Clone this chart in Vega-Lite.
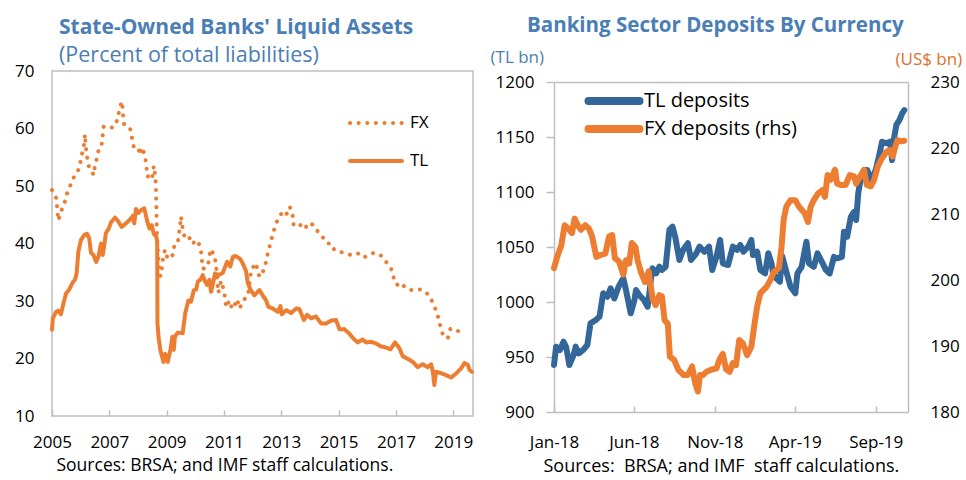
{
"$schema": "https://vega.github.io/schema/vega-lite/v6.json",
"padding": {"left": 13, "top": 15, "right": 2, "bottom": 0},
"background": "white",
"spacing": 15,
"columns": 2,
"align": "none",
"config": {
  "font": "Open Sans",
  "view": {"stroke": "#BFBFBF", "strokeWidth": 1.5},
  "axis": {"labelFont": "Open Sans", "labelFontSize": 17, "labelColor": "#000000", "grid": false, "domain": false, "titleFont": "Open Sans"},
  "legend": {"labelFont": "Open Sans"},
  "title": {"font": "Open Sans", "subtitleFont": "Open Sans"}
},
"resolve": {"scale": {"color": "independent", "strokeDash": "independent"}, "legend": {"color": "independent", "strokeDash": "independent"}},
"datasets": {
  "liquid": [
{"year":2005.0,"v":49.3,"s":"FX"},{"year":2005.15,"v":47.9,"s":"FX"},{"year":2005.18,"v":46.2,"s":"FX"},{"year":2005.22,"v":44.0,"s":"FX"},{"year":2005.3,"v":45.4,"s":"FX"},{"year":2005.43,"v":46.9,"s":"FX"},{"year":2005.5,"v":48.4,"s":"FX"},{"year":2005.63,"v":50.0,"s":"FX"},{"year":2005.76,"v":51.5,"s":"FX"},{"year":2005.92,"v":52.8,"s":"FX"},{"year":2006.0,"v":54.3,"s":"FX"},{"year":2006.06,"v":55.9,"s":"FX"},{"year":2006.13,"v":57.5,"s":"FX"},{"year":2006.15,"v":59.0,"s":"FX"},{"year":2006.18,"v":56.7,"s":"FX"},{"year":2006.22,"v":55.1,"s":"FX"},{"year":2006.28,"v":53.5,"s":"FX"},{"year":2006.36,"v":52.9,"s":"FX"},{"year":2006.45,"v":51.9,"s":"FX"},{"year":2006.5,"v":53.5,"s":"FX"},{"year":2006.57,"v":55.0,"s":"FX"},{"year":2006.64,"v":56.6,"s":"FX"},{"year":2006.73,"v":57.1,"s":"FX"},{"year":2006.77,"v":58.9,"s":"FX"},{"year":2006.8,"v":60.3,"s":"FX"},{"year":2006.97,"v":60.0,"s":"FX"},{"year":2007.17,"v":60.3,"s":"FX"},{"year":2007.29,"v":61.6,"s":"FX"},{"year":2007.35,"v":63.2,"s":"FX"},{"year":2007.43,"v":64.7,"s":"FX"},{"year":2007.46,"v":63.8,"s":"FX"},{"year":2007.48,"v":62.2,"s":"FX"},{"year":2007.52,"v":60.6,"s":"FX"},{"year":2007.73,"v":59.9,"s":"FX"},{"year":2007.79,"v":58.4,"s":"FX"},{"year":2007.85,"v":56.8,"s":"FX"},{"year":2007.99,"v":56.8,"s":"FX"},{"year":2008.08,"v":55.4,"s":"FX"},{"year":2008.12,"v":56.7,"s":"FX"},{"year":2008.18,"v":56.3,"s":"FX"},{"year":2008.26,"v":54.7,"s":"FX"},{"year":2008.3,"v":53.1,"s":"FX"},{"year":2008.34,"v":51.6,"s":"FX"},{"year":2008.43,"v":52.2,"s":"FX"},{"year":2008.5,"v":51.6,"s":"FX"},{"year":2008.55,"v":53.5,"s":"FX"},{"year":2008.6,"v":51.9,"s":"FX"},{"year":2008.62,"v":50.5,"s":"FX"},{"year":2008.63,"v":48.8,"s":"FX"},{"year":2008.64,"v":47.1,"s":"FX"},{"year":2008.645,"v":45.5,"s":"FX"},{"year":2008.65,"v":44.1,"s":"FX"},{"year":2008.66,"v":42.3,"s":"FX"},{"year":2008.67,"v":40.6,"s":"FX"},{"year":2008.69,"v":39.0,"s":"FX"},{"year":2008.71,"v":37.4,"s":"FX"},{"year":2008.73,"v":36.0,"s":"FX"},{"year":2008.78,"v":34.3,"s":"FX"},{"year":2008.83,"v":35.5,"s":"FX"},{"year":2008.87,"v":37.3,"s":"FX"},{"year":2008.94,"v":38.9,"s":"FX"},{"year":2009.04,"v":37.3,"s":"FX"},{"year":2009.21,"v":38.0,"s":"FX"},{"year":2009.27,"v":39.7,"s":"FX"},{"year":2009.39,"v":40.1,"s":"FX"},{"year":2009.42,"v":41.5,"s":"FX"},{"year":2009.47,"v":43.0,"s":"FX"},{"year":2009.5,"v":44.7,"s":"FX"},{"year":2009.55,"v":42.9,"s":"FX"},{"year":2009.6,"v":41.5,"s":"FX"},{"year":2009.74,"v":40.6,"s":"FX"},{"year":2009.85,"v":41.2,"s":"FX"},{"year":2009.97,"v":39.9,"s":"FX"},{"year":2010.1,"v":40.3,"s":"FX"},{"year":2010.2,"v":38.7,"s":"FX"},{"year":2010.23,"v":37.1,"s":"FX"},{"year":2010.27,"v":35.6,"s":"FX"},{"year":2010.43,"v":36.0,"s":"FX"},{"year":2010.49,"v":37.4,"s":"FX"},{"year":2010.52,"v":39.0,"s":"FX"},{"year":2010.58,"v":38.7,"s":"FX"},{"year":2010.67,"v":37.8,"s":"FX"},{"year":2010.72,"v":36.3,"s":"FX"},{"year":2010.76,"v":34.6,"s":"FX"},{"year":2010.8,"v":31.4,"s":"FX"},{"year":2010.9,"v":33.5,"s":"FX"},{"year":2010.99,"v":32.0,"s":"FX"},{"year":2011.04,"v":30.5,"s":"FX"},{"year":2011.07,"v":28.9,"s":"FX"},{"year":2011.19,"v":30.1,"s":"FX"},{"year":2011.28,"v":28.6,"s":"FX"},{"year":2011.36,"v":29.1,"s":"FX"},{"year":2011.46,"v":30.3,"s":"FX"},{"year":2011.54,"v":28.7,"s":"FX"},{"year":2011.71,"v":30.3,"s":"FX"},{"year":2011.83,"v":30.8,"s":"FX"},{"year":2011.88,"v":32.5,"s":"FX"},{"year":2011.95,"v":35.4,"s":"FX"},{"year":2012.12,"v":36.6,"s":"FX"},{"year":2012.18,"v":34.8,"s":"FX"},{"year":2012.27,"v":34.2,"s":"FX"},{"year":2012.39,"v":35.4,"s":"FX"},{"year":2012.47,"v":36.8,"s":"FX"},{"year":2012.53,"v":38.3,"s":"FX"},{"year":2012.62,"v":40.0,"s":"FX"},{"year":2012.7,"v":41.5,"s":"FX"},{"year":2012.78,"v":42.9,"s":"FX"},{"year":2012.9,"v":44.5,"s":"FX"},{"year":2012.99,"v":45.1,"s":"FX"},{"year":2013.11,"v":45.5,"s":"FX"},{"year":2013.17,"v":45.0,"s":"FX"},{"year":2013.3,"v":46.4,"s":"FX"},{"year":2013.34,"v":45.5,"s":"FX"},{"year":2013.4,"v":44.8,"s":"FX"},{"year":2013.43,"v":43.2,"s":"FX"},{"year":2013.61,"v":43.5,"s":"FX"},{"year":2013.81,"v":42.5,"s":"FX"},{"year":2013.96,"v":43.6,"s":"FX"},{"year":2014.13,"v":43.2,"s":"FX"},{"year":2014.3,"v":41.9,"s":"FX"},{"year":2014.48,"v":40.9,"s":"FX"},{"year":2014.62,"v":40.0,"s":"FX"},{"year":2014.74,"v":40.0,"s":"FX"},{"year":2014.85,"v":38.9,"s":"FX"},{"year":2014.99,"v":38.7,"s":"FX"},{"year":2015.2,"v":38.3,"s":"FX"},{"year":2015.44,"v":38.0,"s":"FX"},{"year":2015.67,"v":38.3,"s":"FX"},{"year":2015.84,"v":37.6,"s":"FX"},{"year":2016.02,"v":37.8,"s":"FX"},{"year":2016.23,"v":38.4,"s":"FX"},{"year":2016.46,"v":38.0,"s":"FX"},{"year":2016.66,"v":36.8,"s":"FX"},{"year":2016.83,"v":35.7,"s":"FX"},{"year":2016.93,"v":33.9,"s":"FX"},{"year":2017.04,"v":32.8,"s":"FX"},{"year":2017.16,"v":33.2,"s":"FX"},{"year":2017.3,"v":32.5,"s":"FX"},{"year":2017.51,"v":31.9,"s":"FX"},{"year":2017.7,"v":32.0,"s":"FX"},{"year":2017.9,"v":32.0,"s":"FX"},{"year":2018.09,"v":31.3,"s":"FX"},{"year":2018.23,"v":30.3,"s":"FX"},{"year":2018.37,"v":28.7,"s":"FX"},{"year":2018.48,"v":27.1,"s":"FX"},{"year":2018.55,"v":25.7,"s":"FX"},{"year":2018.64,"v":24.1,"s":"FX"},{"year":2018.81,"v":23.5,"s":"FX"},{"year":2018.9,"v":25.2,"s":"FX"},{"year":2019.16,"v":24.8,"s":"FX"},{"year":2019.39,"v":24.3,"s":"FX"},
{"year":2005.0,"v":25.0,"s":"TL"},{"year":2005.03,"v":27.0,"s":"TL"},{"year":2005.14,"v":28.1,"s":"TL"},{"year":2005.22,"v":28.3,"s":"TL"},{"year":2005.31,"v":27.7,"s":"TL"},{"year":2005.4,"v":29.6,"s":"TL"},{"year":2005.49,"v":31.3,"s":"TL"},{"year":2005.6,"v":32.0,"s":"TL"},{"year":2005.72,"v":33.2,"s":"TL"},{"year":2005.8,"v":33.7,"s":"TL"},{"year":2005.86,"v":34.8,"s":"TL"},{"year":2005.92,"v":38.6,"s":"TL"},{"year":2006.01,"v":40.6,"s":"TL"},{"year":2006.13,"v":41.5,"s":"TL"},{"year":2006.22,"v":41.7,"s":"TL"},{"year":2006.3,"v":40.9,"s":"TL"},{"year":2006.36,"v":38.4,"s":"TL"},{"year":2006.45,"v":38.0,"s":"TL"},{"year":2006.54,"v":36.8,"s":"TL"},{"year":2006.62,"v":37.7,"s":"TL"},{"year":2006.71,"v":40.0,"s":"TL"},{"year":2006.77,"v":38.0,"s":"TL"},{"year":2006.83,"v":39.9,"s":"TL"},{"year":2006.88,"v":41.8,"s":"TL"},{"year":2006.98,"v":42.6,"s":"TL"},{"year":2007.06,"v":43.7,"s":"TL"},{"year":2007.2,"v":44.5,"s":"TL"},{"year":2007.29,"v":44.0,"s":"TL"},{"year":2007.43,"v":42.9,"s":"TL"},{"year":2007.58,"v":43.5,"s":"TL"},{"year":2007.73,"v":44.2,"s":"TL"},{"year":2007.82,"v":44.8,"s":"TL"},{"year":2007.87,"v":43.5,"s":"TL"},{"year":2007.93,"v":46.0,"s":"TL"},{"year":2008.01,"v":45.3,"s":"TL"},{"year":2008.13,"v":45.9,"s":"TL"},{"year":2008.22,"v":46.1,"s":"TL"},{"year":2008.32,"v":43.9,"s":"TL"},{"year":2008.4,"v":42.6,"s":"TL"},{"year":2008.48,"v":43.2,"s":"TL"},{"year":2008.55,"v":41.7,"s":"TL"},{"year":2008.64,"v":41.2,"s":"TL"},{"year":2008.67,"v":40.4,"s":"TL"},{"year":2008.68,"v":26.1,"s":"TL"},{"year":2008.72,"v":23.6,"s":"TL"},{"year":2008.78,"v":21.5,"s":"TL"},{"year":2008.89,"v":19.4,"s":"TL"},{"year":2008.95,"v":20.8,"s":"TL"},{"year":2009.04,"v":19.4,"s":"TL"},{"year":2009.13,"v":21.5,"s":"TL"},{"year":2009.2,"v":23.8,"s":"TL"},{"year":2009.25,"v":21.5,"s":"TL"},{"year":2009.29,"v":23.8,"s":"TL"},{"year":2009.39,"v":24.5,"s":"TL"},{"year":2009.56,"v":24.4,"s":"TL"},{"year":2009.65,"v":27.9,"s":"TL"},{"year":2009.76,"v":30.1,"s":"TL"},{"year":2009.85,"v":29.9,"s":"TL"},{"year":2009.95,"v":31.9,"s":"TL"},{"year":2010.03,"v":32.0,"s":"TL"},{"year":2010.09,"v":33.4,"s":"TL"},{"year":2010.18,"v":33.7,"s":"TL"},{"year":2010.26,"v":34.5,"s":"TL"},{"year":2010.34,"v":33.4,"s":"TL"},{"year":2010.41,"v":32.8,"s":"TL"},{"year":2010.49,"v":33.7,"s":"TL"},{"year":2010.55,"v":31.6,"s":"TL"},{"year":2010.62,"v":33.1,"s":"TL"},{"year":2010.69,"v":34.8,"s":"TL"},{"year":2010.8,"v":34.5,"s":"TL"},{"year":2010.96,"v":34.9,"s":"TL"},{"year":2011.11,"v":36.8,"s":"TL"},{"year":2011.22,"v":36.0,"s":"TL"},{"year":2011.31,"v":37.7,"s":"TL"},{"year":2011.42,"v":37.8,"s":"TL"},{"year":2011.57,"v":37.3,"s":"TL"},{"year":2011.66,"v":36.5,"s":"TL"},{"year":2011.77,"v":35.2,"s":"TL"},{"year":2011.83,"v":33.2,"s":"TL"},{"year":2011.92,"v":32.0,"s":"TL"},{"year":2012.06,"v":31.0,"s":"TL"},{"year":2012.24,"v":31.9,"s":"TL"},{"year":2012.35,"v":31.0,"s":"TL"},{"year":2012.47,"v":30.1,"s":"TL"},{"year":2012.55,"v":29.0,"s":"TL"},{"year":2012.7,"v":28.7,"s":"TL"},{"year":2012.88,"v":28.1,"s":"TL"},{"year":2012.97,"v":29.1,"s":"TL"},{"year":2013.02,"v":27.7,"s":"TL"},{"year":2013.17,"v":28.4,"s":"TL"},{"year":2013.34,"v":27.9,"s":"TL"},{"year":2013.52,"v":28.7,"s":"TL"},{"year":2013.63,"v":28.6,"s":"TL"},{"year":2013.79,"v":26.7,"s":"TL"},{"year":2013.9,"v":27.6,"s":"TL"},{"year":2014.04,"v":27.0,"s":"TL"},{"year":2014.21,"v":27.3,"s":"TL"},{"year":2014.39,"v":26.1,"s":"TL"},{"year":2014.56,"v":26.1,"s":"TL"},{"year":2014.74,"v":26.6,"s":"TL"},{"year":2014.91,"v":26.7,"s":"TL"},{"year":2015.03,"v":25.1,"s":"TL"},{"year":2015.2,"v":25.1,"s":"TL"},{"year":2015.38,"v":24.3,"s":"TL"},{"year":2015.55,"v":23.3,"s":"TL"},{"year":2015.67,"v":22.8,"s":"TL"},{"year":2015.84,"v":23.3,"s":"TL"},{"year":2015.96,"v":22.8,"s":"TL"},{"year":2016.13,"v":22.9,"s":"TL"},{"year":2016.31,"v":22.6,"s":"TL"},{"year":2016.48,"v":22.1,"s":"TL"},{"year":2016.66,"v":21.9,"s":"TL"},{"year":2016.81,"v":21.6,"s":"TL"},{"year":2016.97,"v":22.8,"s":"TL"},{"year":2017.12,"v":21.8,"s":"TL"},{"year":2017.24,"v":20.4,"s":"TL"},{"year":2017.39,"v":20.0,"s":"TL"},{"year":2017.59,"v":19.4,"s":"TL"},{"year":2017.76,"v":18.5,"s":"TL"},{"year":2017.94,"v":19.0,"s":"TL"},{"year":2018.11,"v":18.5,"s":"TL"},{"year":2018.23,"v":19.0,"s":"TL"},{"year":2018.29,"v":17.7,"s":"TL"},{"year":2018.34,"v":15.4,"s":"TL"},{"year":2018.4,"v":17.7,"s":"TL"},{"year":2018.55,"v":17.5,"s":"TL"},{"year":2018.75,"v":17.1,"s":"TL"},{"year":2018.93,"v":16.7,"s":"TL"},{"year":2019.1,"v":17.4,"s":"TL"},{"year":2019.28,"v":18.3,"s":"TL"},{"year":2019.39,"v":19.2,"s":"TL"},{"year":2019.51,"v":18.9,"s":"TL"},{"year":2019.57,"v":18.0,"s":"TL"},{"year":2019.65,"v":17.7,"s":"TL"}
  ],
  "tl": [
{"date":"2018-01-01","v":942.7,"s":"TL deposits"},{"date":"2018-01-05","v":959.4,"s":"TL deposits"},{"date":"2018-01-12","v":956.4,"s":"TL deposits"},{"date":"2018-01-19","v":963.9,"s":"TL deposits"},{"date":"2018-01-24","v":959.0,"s":"TL deposits"},{"date":"2018-01-30","v":942.7,"s":"TL deposits"},{"date":"2018-02-07","v":951.8,"s":"TL deposits"},{"date":"2018-02-11","v":959.4,"s":"TL deposits"},{"date":"2018-02-17","v":953.3,"s":"TL deposits"},{"date":"2018-02-25","v":956.4,"s":"TL deposits"},{"date":"2018-03-05","v":960.9,"s":"TL deposits"},{"date":"2018-03-11","v":980.6,"s":"TL deposits"},{"date":"2018-03-21","v":983.6,"s":"TL deposits"},{"date":"2018-03-28","v":986.7,"s":"TL deposits"},{"date":"2018-04-04","v":1007.9,"s":"TL deposits"},{"date":"2018-04-12","v":1004.8,"s":"TL deposits"},{"date":"2018-04-18","v":1012.4,"s":"TL deposits"},{"date":"2018-04-25","v":1003.3,"s":"TL deposits"},{"date":"2018-05-03","v":1013.9,"s":"TL deposits"},{"date":"2018-05-12","v":1021.5,"s":"TL deposits"},{"date":"2018-05-17","v":1010.9,"s":"TL deposits"},{"date":"2018-05-26","v":989.7,"s":"TL deposits"},{"date":"2018-06-02","v":1001.8,"s":"TL deposits"},{"date":"2018-06-05","v":1010.9,"s":"TL deposits"},{"date":"2018-06-11","v":1006.4,"s":"TL deposits"},{"date":"2018-06-20","v":1001.8,"s":"TL deposits"},{"date":"2018-06-27","v":995.7,"s":"TL deposits"},{"date":"2018-07-03","v":1020.0,"s":"TL deposits"},{"date":"2018-07-06","v":1030.6,"s":"TL deposits"},{"date":"2018-07-13","v":1026.0,"s":"TL deposits"},{"date":"2018-07-19","v":1032.1,"s":"TL deposits"},{"date":"2018-07-24","v":1029.1,"s":"TL deposits"},{"date":"2018-07-31","v":1032.1,"s":"TL deposits"},{"date":"2018-08-07","v":1065.5,"s":"TL deposits"},{"date":"2018-08-13","v":1068.5,"s":"TL deposits"},{"date":"2018-08-18","v":1059.4,"s":"TL deposits"},{"date":"2018-08-26","v":1038.2,"s":"TL deposits"},{"date":"2018-09-02","v":1047.3,"s":"TL deposits"},{"date":"2018-09-11","v":1053.4,"s":"TL deposits"},{"date":"2018-09-17","v":1038.2,"s":"TL deposits"},{"date":"2018-09-27","v":1044.3,"s":"TL deposits"},{"date":"2018-10-03","v":1050.3,"s":"TL deposits"},{"date":"2018-10-12","v":1045.7,"s":"TL deposits"},{"date":"2018-10-21","v":1050.3,"s":"TL deposits"},{"date":"2018-10-27","v":1029.1,"s":"TL deposits"},{"date":"2018-11-04","v":1041.2,"s":"TL deposits"},{"date":"2018-11-11","v":1056.4,"s":"TL deposits"},{"date":"2018-11-16","v":1035.2,"s":"TL deposits"},{"date":"2018-11-26","v":1033.6,"s":"TL deposits"},{"date":"2018-12-05","v":1050.3,"s":"TL deposits"},{"date":"2018-12-13","v":1047.3,"s":"TL deposits"},{"date":"2018-12-19","v":1051.8,"s":"TL deposits"},{"date":"2018-12-25","v":1045.7,"s":"TL deposits"},{"date":"2019-01-03","v":1050.3,"s":"TL deposits"},{"date":"2019-01-09","v":1056.4,"s":"TL deposits"},{"date":"2019-01-12","v":1042.7,"s":"TL deposits"},{"date":"2019-01-20","v":1045.7,"s":"TL deposits"},{"date":"2019-01-26","v":1029.1,"s":"TL deposits"},{"date":"2019-02-04","v":1026.0,"s":"TL deposits"},{"date":"2019-02-10","v":1044.3,"s":"TL deposits"},{"date":"2019-02-16","v":1035.2,"s":"TL deposits"},{"date":"2019-02-19","v":1026.0,"s":"TL deposits"},{"date":"2019-02-25","v":1021.5,"s":"TL deposits"},{"date":"2019-03-04","v":1018.5,"s":"TL deposits"},{"date":"2019-03-08","v":1042.0,"s":"TL deposits"},{"date":"2019-03-12","v":1035.0,"s":"TL deposits"},{"date":"2019-03-17","v":1026.0,"s":"TL deposits"},{"date":"2019-03-24","v":1013.9,"s":"TL deposits"},{"date":"2019-04-02","v":1007.9,"s":"TL deposits"},{"date":"2019-04-06","v":1026.0,"s":"TL deposits"},{"date":"2019-04-14","v":1032.0,"s":"TL deposits"},{"date":"2019-04-23","v":1054.8,"s":"TL deposits"},{"date":"2019-04-28","v":1035.0,"s":"TL deposits"},{"date":"2019-05-07","v":1032.0,"s":"TL deposits"},{"date":"2019-05-14","v":1044.3,"s":"TL deposits"},{"date":"2019-05-22","v":1036.7,"s":"TL deposits"},{"date":"2019-05-30","v":1029.0,"s":"TL deposits"},{"date":"2019-06-06","v":1026.0,"s":"TL deposits"},{"date":"2019-06-14","v":1041.0,"s":"TL deposits"},{"date":"2019-06-20","v":1039.7,"s":"TL deposits"},{"date":"2019-06-29","v":1041.0,"s":"TL deposits"},{"date":"2019-07-03","v":1063.9,"s":"TL deposits"},{"date":"2019-07-09","v":1059.4,"s":"TL deposits"},{"date":"2019-07-16","v":1077.5,"s":"TL deposits"},{"date":"2019-07-22","v":1082.0,"s":"TL deposits"},{"date":"2019-07-26","v":1074.5,"s":"TL deposits"},{"date":"2019-07-30","v":1098.8,"s":"TL deposits"},{"date":"2019-08-04","v":1113.9,"s":"TL deposits"},{"date":"2019-08-10","v":1120.0,"s":"TL deposits"},{"date":"2019-08-16","v":1120.0,"s":"TL deposits"},{"date":"2019-08-23","v":1110.9,"s":"TL deposits"},{"date":"2019-09-01","v":1120.0,"s":"TL deposits"},{"date":"2019-09-07","v":1132.0,"s":"TL deposits"},{"date":"2019-09-13","v":1145.7,"s":"TL deposits"},{"date":"2019-09-21","v":1144.3,"s":"TL deposits"},{"date":"2019-09-28","v":1145.7,"s":"TL deposits"},{"date":"2019-10-02","v":1129.0,"s":"TL deposits"},{"date":"2019-10-06","v":1150.0,"s":"TL deposits"},{"date":"2019-10-10","v":1161.0,"s":"TL deposits"},{"date":"2019-10-16","v":1165.5,"s":"TL deposits"},{"date":"2019-10-21","v":1171.5,"s":"TL deposits"},{"date":"2019-10-25","v":1174.5,"s":"TL deposits"}
  ],
  "fx": [
{"date":"2018-01-01","v":201.8,"s":"FX deposits (rhs)"},{"date":"2018-01-07","v":203.5,"s":"FX deposits (rhs)"},{"date":"2018-01-15","v":205.3,"s":"FX deposits (rhs)"},{"date":"2018-01-21","v":208.3,"s":"FX deposits (rhs)"},{"date":"2018-01-28","v":207.8,"s":"FX deposits (rhs)"},{"date":"2018-02-04","v":207.1,"s":"FX deposits (rhs)"},{"date":"2018-02-09","v":209.3,"s":"FX deposits (rhs)"},{"date":"2018-02-15","v":208.3,"s":"FX deposits (rhs)"},{"date":"2018-02-21","v":207.6,"s":"FX deposits (rhs)"},{"date":"2018-03-01","v":208.3,"s":"FX deposits (rhs)"},{"date":"2018-03-08","v":207.8,"s":"FX deposits (rhs)"},{"date":"2018-03-14","v":206.6,"s":"FX deposits (rhs)"},{"date":"2018-03-22","v":203.5,"s":"FX deposits (rhs)"},{"date":"2018-03-30","v":203.8,"s":"FX deposits (rhs)"},{"date":"2018-04-08","v":204.0,"s":"FX deposits (rhs)"},{"date":"2018-04-15","v":206.6,"s":"FX deposits (rhs)"},{"date":"2018-04-21","v":206.8,"s":"FX deposits (rhs)"},{"date":"2018-04-26","v":203.3,"s":"FX deposits (rhs)"},{"date":"2018-05-04","v":202.8,"s":"FX deposits (rhs)"},{"date":"2018-05-12","v":200.8,"s":"FX deposits (rhs)"},{"date":"2018-05-17","v":203.0,"s":"FX deposits (rhs)"},{"date":"2018-05-23","v":202.5,"s":"FX deposits (rhs)"},{"date":"2018-05-28","v":205.6,"s":"FX deposits (rhs)"},{"date":"2018-06-04","v":205.0,"s":"FX deposits (rhs)"},{"date":"2018-06-08","v":203.0,"s":"FX deposits (rhs)"},{"date":"2018-06-15","v":201.0,"s":"FX deposits (rhs)"},{"date":"2018-06-22","v":199.7,"s":"FX deposits (rhs)"},{"date":"2018-06-29","v":201.3,"s":"FX deposits (rhs)"},{"date":"2018-07-03","v":199.0,"s":"FX deposits (rhs)"},{"date":"2018-07-07","v":197.0,"s":"FX deposits (rhs)"},{"date":"2018-07-12","v":196.2,"s":"FX deposits (rhs)"},{"date":"2018-07-19","v":197.7,"s":"FX deposits (rhs)"},{"date":"2018-07-24","v":197.5,"s":"FX deposits (rhs)"},{"date":"2018-07-29","v":193.9,"s":"FX deposits (rhs)"},{"date":"2018-08-04","v":193.4,"s":"FX deposits (rhs)"},{"date":"2018-08-08","v":188.4,"s":"FX deposits (rhs)"},{"date":"2018-08-16","v":187.9,"s":"FX deposits (rhs)"},{"date":"2018-08-24","v":186.4,"s":"FX deposits (rhs)"},{"date":"2018-09-03","v":185.6,"s":"FX deposits (rhs)"},{"date":"2018-09-11","v":185.6,"s":"FX deposits (rhs)"},{"date":"2018-09-19","v":186.9,"s":"FX deposits (rhs)"},{"date":"2018-09-25","v":184.3,"s":"FX deposits (rhs)"},{"date":"2018-09-30","v":183.1,"s":"FX deposits (rhs)"},{"date":"2018-10-04","v":185.6,"s":"FX deposits (rhs)"},{"date":"2018-10-10","v":185.6,"s":"FX deposits (rhs)"},{"date":"2018-10-16","v":186.1,"s":"FX deposits (rhs)"},{"date":"2018-10-25","v":186.4,"s":"FX deposits (rhs)"},{"date":"2018-11-04","v":186.6,"s":"FX deposits (rhs)"},{"date":"2018-11-10","v":188.0,"s":"FX deposits (rhs)"},{"date":"2018-11-16","v":188.8,"s":"FX deposits (rhs)"},{"date":"2018-11-22","v":186.5,"s":"FX deposits (rhs)"},{"date":"2018-11-29","v":186.1,"s":"FX deposits (rhs)"},{"date":"2018-12-05","v":187.4,"s":"FX deposits (rhs)"},{"date":"2018-12-11","v":187.1,"s":"FX deposits (rhs)"},{"date":"2018-12-17","v":190.9,"s":"FX deposits (rhs)"},{"date":"2018-12-24","v":190.4,"s":"FX deposits (rhs)"},{"date":"2019-01-01","v":188.6,"s":"FX deposits (rhs)"},{"date":"2019-01-09","v":189.9,"s":"FX deposits (rhs)"},{"date":"2019-01-15","v":193.4,"s":"FX deposits (rhs)"},{"date":"2019-01-20","v":196.0,"s":"FX deposits (rhs)"},{"date":"2019-01-26","v":198.0,"s":"FX deposits (rhs)"},{"date":"2019-02-07","v":199.0,"s":"FX deposits (rhs)"},{"date":"2019-02-14","v":200.0,"s":"FX deposits (rhs)"},{"date":"2019-02-21","v":201.3,"s":"FX deposits (rhs)"},{"date":"2019-03-02","v":201.8,"s":"FX deposits (rhs)"},{"date":"2019-03-07","v":205.0,"s":"FX deposits (rhs)"},{"date":"2019-03-11","v":209.1,"s":"FX deposits (rhs)"},{"date":"2019-03-16","v":211.1,"s":"FX deposits (rhs)"},{"date":"2019-03-24","v":212.1,"s":"FX deposits (rhs)"},{"date":"2019-04-02","v":212.1,"s":"FX deposits (rhs)"},{"date":"2019-04-09","v":211.1,"s":"FX deposits (rhs)"},{"date":"2019-04-20","v":210.1,"s":"FX deposits (rhs)"},{"date":"2019-04-26","v":208.8,"s":"FX deposits (rhs)"},{"date":"2019-05-01","v":211.1,"s":"FX deposits (rhs)"},{"date":"2019-05-07","v":212.1,"s":"FX deposits (rhs)"},{"date":"2019-05-15","v":213.1,"s":"FX deposits (rhs)"},{"date":"2019-05-23","v":213.6,"s":"FX deposits (rhs)"},{"date":"2019-05-28","v":212.6,"s":"FX deposits (rhs)"},{"date":"2019-06-02","v":215.9,"s":"FX deposits (rhs)"},{"date":"2019-06-08","v":215.2,"s":"FX deposits (rhs)"},{"date":"2019-06-16","v":216.7,"s":"FX deposits (rhs)"},{"date":"2019-06-20","v":214.6,"s":"FX deposits (rhs)"},{"date":"2019-06-27","v":214.4,"s":"FX deposits (rhs)"},{"date":"2019-07-06","v":214.4,"s":"FX deposits (rhs)"},{"date":"2019-07-14","v":215.9,"s":"FX deposits (rhs)"},{"date":"2019-07-22","v":215.7,"s":"FX deposits (rhs)"},{"date":"2019-07-26","v":214.6,"s":"FX deposits (rhs)"},{"date":"2019-08-04","v":215.9,"s":"FX deposits (rhs)"},{"date":"2019-08-10","v":216.7,"s":"FX deposits (rhs)"},{"date":"2019-08-15","v":214.4,"s":"FX deposits (rhs)"},{"date":"2019-08-23","v":214.2,"s":"FX deposits (rhs)"},{"date":"2019-08-29","v":215.2,"s":"FX deposits (rhs)"},{"date":"2019-09-05","v":217.2,"s":"FX deposits (rhs)"},{"date":"2019-09-11","v":218.2,"s":"FX deposits (rhs)"},{"date":"2019-09-21","v":219.4,"s":"FX deposits (rhs)"},{"date":"2019-09-28","v":219.7,"s":"FX deposits (rhs)"},{"date":"2019-10-03","v":218.7,"s":"FX deposits (rhs)"},{"date":"2019-10-08","v":220.2,"s":"FX deposits (rhs)"},{"date":"2019-10-12","v":221.2,"s":"FX deposits (rhs)"},{"date":"2019-10-19","v":221.0,"s":"FX deposits (rhs)"},{"date":"2019-10-25","v":221.1,"s":"FX deposits (rhs)"}
  ]
},
"concat": [
  {
    "width": 421,
    "height": 345,
    "data": {"name": "liquid"},
    "title": {"text": "State-Owned Banks' Liquid Assets", "subtitle": "(Percent of total liabilities)", "anchor": "start", "frame": "group", "dx": 7, "fontSize": 21, "fontWeight": "bold", "color": "#4A7EB4", "subtitleColor": "#4A7EB4", "subtitleFontSize": 21.5, "subtitlePadding": 7, "offset": -4},
    "mark": {"type": "line", "color": "#ED7D31", "strokeWidth": 4, "strokeCap": "round", "strokeJoin": "round"},
    "encoding": {
      "x": {"field": "year", "type": "quantitative", "scale": {"domain": [2005, 2019.69], "nice": false, "zero": false},
        "axis": {"values": [2005, 2007, 2009, 2011, 2013, 2015, 2017, 2019], "format": "d", "tickSize": -6, "tickColor": "#BFBFBF", "tickWidth": 1.5, "labelPadding": 24, "labelFlush": false,
          "title": "Sources: BRSA; and IMF staff calculations.", "titleFontSize": 17.5, "titleFontWeight": "normal", "titleColor": "#000000", "titlePadding": 6, "titleAnchor": "start", "titleX": 4, "titleAlign": "left"}},
      "y": {"field": "v", "type": "quantitative", "scale": {"domain": [10, 70], "nice": false, "zero": false},
        "axis": {"values": [10, 20, 30, 40, 50, 60, 70], "ticks": false, "labelPadding": 18, "title": null}},
      "strokeDash": {"field": "s", "type": "nominal", "scale": {"domain": ["FX", "TL"], "range": [[0.1, 8.5], [1, 0]]},
        "legend": {"title": null, "orient": "none", "legendX": 296, "legendY": 24, "symbolType": "stroke", "symbolSize": 2704, "symbolStrokeWidth": 4, "symbolStrokeColor": "#ED7D31", "labelFontSize": 17, "labelColor": "#000000", "rowPadding": 2, "labelOffset": 6,
          "encoding": {"symbols": {"strokeCap": {"value": "round"}}}}}
    }
  },
  {
    "width": 354,
    "height": 345,
    "view": {"stroke": null},
    "title": {"text": "Banking Sector Deposits By Currency", "anchor": "start", "frame": "group", "dx": -27, "fontSize": 20.5, "fontWeight": "bold", "color": "#4A7EB4", "offset": 12},
    "layer": [
      {"data": {"name": "tl"}, "mark": {"type": "line", "strokeWidth": 6, "strokeCap": "round", "strokeJoin": "round"},
        "encoding": {
          "x": {"field": "date", "type": "temporal", "scale": {"type": "utc", "domain": [{"year": 2018, "month": 1, "date": 1, "utc": true}, {"year": 2019, "month": 11, "date": 1, "utc": true}]},
            "axis": {"values": [{"year": 2018, "month": 1, "date": 1, "utc": true}, {"year": 2018, "month": 6, "date": 1, "utc": true}, {"year": 2018, "month": 11, "date": 1, "utc": true}, {"year": 2019, "month": 4, "date": 1, "utc": true}, {"year": 2019, "month": 9, "date": 1, "utc": true}],
              "format": "%b-%y", "offset": -4, "domain": true, "domainColor": "#BFBFBF", "domainWidth": 1.5, "tickSize": -6, "tickColor": "#BFBFBF", "tickWidth": 1.5, "labelPadding": 28, "labelFlush": false,
              "title": "Sources:\u00a0 BRSA; and IMF\u00a0 staff calculations.", "titleFontSize": 18, "titleFontWeight": "normal", "titleColor": "#000000", "titlePadding": 7, "titleAnchor": "start", "titleX": -11, "titleAlign": "left"}},
          "y": {"field": "v", "type": "quantitative", "scale": {"domain": [900, 1200], "range": [341, 11], "nice": false, "zero": false},
            "axis": {"values": [900, 950, 1000, 1050, 1100, 1150, 1200], "format": "d", "domain": true, "domainColor": "#BFBFBF", "domainWidth": 1.5, "tickSize": 8, "tickColor": "#BFBFBF", "tickWidth": 1.5, "labelPadding": 12,
              "title": "(TL bn)", "titleAngle": 0, "titleX": -64, "titleY": -14, "titleAlign": "left", "titleBaseline": "middle", "titleColor": "#4A7EB4", "titleFontSize": 17, "titleFontWeight": "normal"}},
          "color": {"field": "s", "type": "nominal", "scale": {"domain": ["TL deposits", "FX deposits (rhs)"], "range": ["#336699", "#ED7D31"]},
            "legend": {"title": null, "orient": "none", "legendX": 50, "legendY": 20, "symbolType": "M-5.1,0H5.1", "symbolSize": 100, "symbolStrokeWidth": 8, "labelFontSize": 20, "labelColor": "#000000", "labelOffset": 20, "rowPadding": -4,
              "encoding": {"symbols": {"strokeCap": {"value": "round"}}}}}
        }},
      {"data": {"name": "fx"}, "mark": {"type": "line", "strokeWidth": 6, "strokeCap": "round", "strokeJoin": "round"},
        "encoding": {
          "x": {"field": "date", "type": "temporal",
            "axis": {"orient": "top", "offset": -11, "domain": true, "domainColor": "#BFBFBF", "domainWidth": 1.5, "ticks": false, "labels": false, "title": null}},
          "y": {"field": "v", "type": "quantitative", "scale": {"domain": [180, 230], "range": [341, 11], "nice": false, "zero": false},
            "axis": {"orient": "right", "values": [180, 190, 200, 210, 220, 230], "format": "d", "domain": true, "domainColor": "#BFBFBF", "domainWidth": 1.5, "ticks": false, "labelPadding": 22,
              "title": "(US$ bn)", "titleAngle": 0, "titleX": -13, "titleY": -12, "titleAlign": "left", "titleBaseline": "middle", "titleColor": "#E0712C", "titleFontSize": 17, "titleFontWeight": "normal"}},
          "color": {"field": "s", "type": "nominal"}
        }}
    ],
    "resolve": {"scale": {"y": "independent"}, "axis": {"x": "independent"}}
  }
]
}
